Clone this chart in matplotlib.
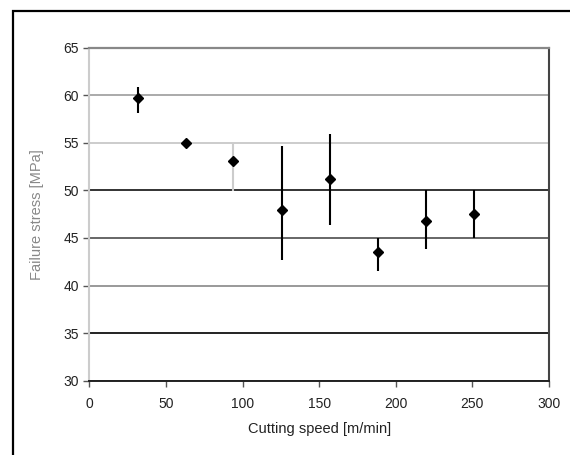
import matplotlib.pyplot as plt
from matplotlib.patches import Rectangle

# 数据: 切削速度 / 失效应力 / 误差范围
speed = [31.6, 63.3, 93.8, 126.0, 157.1, 188.6, 219.8, 251.3]
stress = [59.7, 54.95, 53.1, 47.9, 51.2, 43.55, 46.8, 47.5]
err_low = [1.55, 0.3, 3.2, 5.2, 4.8, 2.0, 3.0, 2.5]
err_high = [1.15, 0.3, 1.9, 6.75, 4.7, 1.4, 3.2, 2.5]
err_color = ['black', 'black', '#cccccc', 'black', 'black', 'black', 'black', 'black']

x_ticks = [0, 50, 100, 150, 200, 250, 300]
y_ticks = [30, 35, 40, 45, 50, 55, 60, 65]
# 扫描图里每条网格线深浅不一
grid_colors = ['#222222', '#222222', '#999999', '#666666', '#333333', '#cccccc', '#aaaaaa', '#999999']

plt.rcParams['font.family'] = ['Liberation Sans', 'DejaVu Sans']

fig = plt.figure(figsize=(5.7, 4.55), dpi=100)
# 外框
fig.patches.append(Rectangle((13 / 570, -0.1), 1.2, 1 - 11 / 455 + 0.1,
                             transform=fig.transFigure, fill=False,
                             edgecolor='black', linewidth=1.6))

ax = fig.add_axes([0.1567, 0.1633, 0.8065, 0.7319])

for i in range(len(speed)):
    ax.errorbar(speed[i], stress[i], yerr=[[err_low[i]], [err_high[i]]],
                fmt='none', ecolor=err_color[i], elinewidth=1.5, capsize=0, zorder=3)
ax.plot(speed, stress, linestyle='none', marker='D', markersize=5,
        color='black', zorder=4)

ax.set_xlim(0, 300)
ax.set_ylim(30, 65)
ax.set_xticks(x_ticks)
ax.set_yticks(y_ticks)

for y, c in zip(y_ticks, grid_colors):
    ax.axhline(y, color=c, linewidth=1.4, zorder=1)

ax.spines['left'].set_color('#cccccc')
ax.spines['left'].set_linewidth(1.5)
ax.spines['right'].set_color('#444444')
ax.spines['right'].set_linewidth(1.5)
ax.spines['top'].set_color('#888888')
ax.spines['top'].set_linewidth(1.6)
ax.spines['bottom'].set_color('#222222')
ax.spines['bottom'].set_linewidth(1.4)

ax.tick_params(axis='both', direction='out', length=4, width=1, colors='#555555',
               labelsize=10, labelcolor='#222222')
ax.tick_params(axis='x', pad=8)

ax.set_xlabel('Cutting speed [m/min]', fontsize=10.5, color='#222222', labelpad=8)
ax.set_ylabel('Failure stress [MPa]', fontsize=10.5, color='#888888', labelpad=14)

plt.savefig('out.png', dpi=100)
